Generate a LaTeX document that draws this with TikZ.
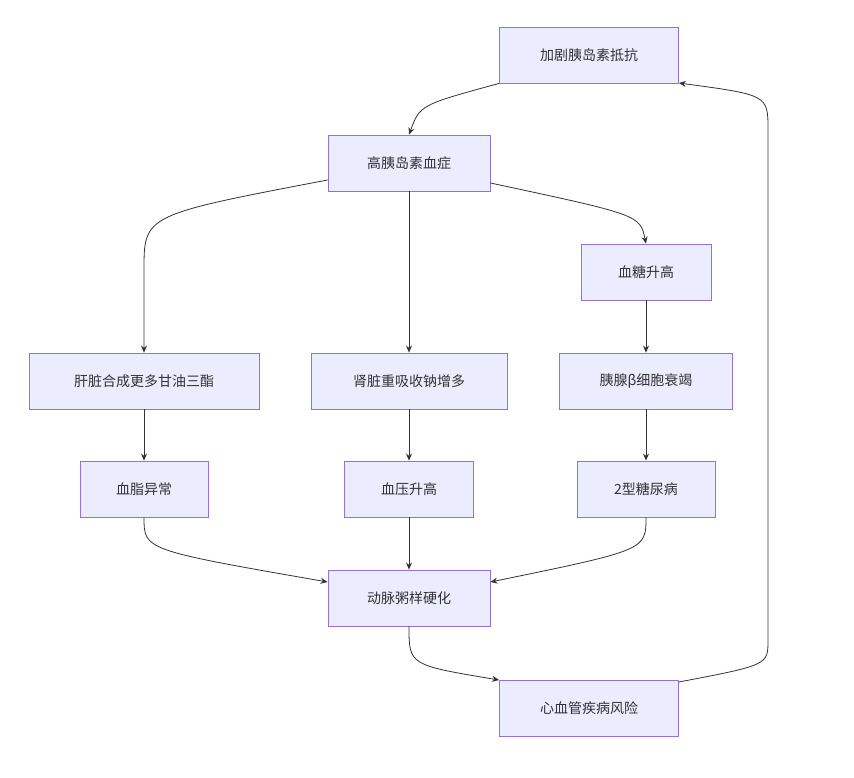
\documentclass[tikz,border=0pt]{standalone}
\usepackage{fontspec}
\setmainfont{Noto Sans CJK SC}
\usetikzlibrary{arrows.meta}
\definecolor{bx}{HTML}{ECECFF}
\definecolor{bd}{HTML}{9370DB}
\definecolor{tx}{HTML}{333333}
\begin{document}
\begin{tikzpicture}[x=1pt,y=-1pt,
 box/.style={draw=bd,fill=bx,line width=0.8pt,minimum height=56pt,text=tx,font=\fontsize{14}{16}\selectfont,inner sep=0pt},
 ed/.style={draw=tx,line width=0.8pt,-{Stealth[length=7pt,width=6pt]}}]
\useasboundingbox (0,0) rectangle (854,778);
\node[box,minimum width=179pt] (a) at (589,55) {加剧胰岛素抵抗};
\node[box,minimum width=162pt] (b) at (409,163) {高胰岛素血症};
\node[box,minimum width=130pt] (c) at (646,272) {血糖升高};
\node[box,minimum width=230pt] (d) at (144,381) {肝脏合成更多甘油三酯};
\node[box,minimum width=196pt] (e) at (409,381) {肾脏重吸收钠增多};
\node[box,minimum width=173pt] (f) at (646,381) {胰腺β细胞衰竭};
\node[box,minimum width=128pt] (g) at (144,489) {血脂异常};
\node[box,minimum width=129pt] (h) at (409,489) {血压升高};
\node[box,minimum width=138pt] (i) at (646,489) {2型糖尿病};
\node[box,minimum width=162pt] (j) at (409,598) {动脉粥样硬化};
\node[box,minimum width=179pt] (k) at (589,708) {心血管疾病风险};
\draw[ed] (a.south west) .. controls (420,105) .. (b.north);
\draw[ed] (b.west |- 0,180) .. controls (144,215) .. (144,270) -- (d.north);
\draw[ed] (b.south) -- (e.north);
\draw[ed] (b.east |- 0,183) .. controls (640,215) .. (c.north);
\draw[ed] (c.south) -- (f.north);
\draw[ed] (d.south) -- (g.north);
\draw[ed] (e.south) -- (h.north);
\draw[ed] (f.south) -- (i.north);
\draw[ed] (g.south) .. controls (144,550) .. (j.west |- 0,582);
\draw[ed] (h.south) -- (j.north);
\draw[ed] (i.south) .. controls (646,550) .. (j.east |- 0,582);
\draw[ed] (j.south) .. controls (409,665) .. (k.west |- 0,680);
\coordinate (r1) at (768,640);
\coordinate (r2) at (768,130);
\draw[ed] (k.east |- 0,682) .. controls (768,665) .. (r1) -- (r2) .. controls (768,95) .. (a.east |- 0,83);
\end{tikzpicture}
\end{document}
